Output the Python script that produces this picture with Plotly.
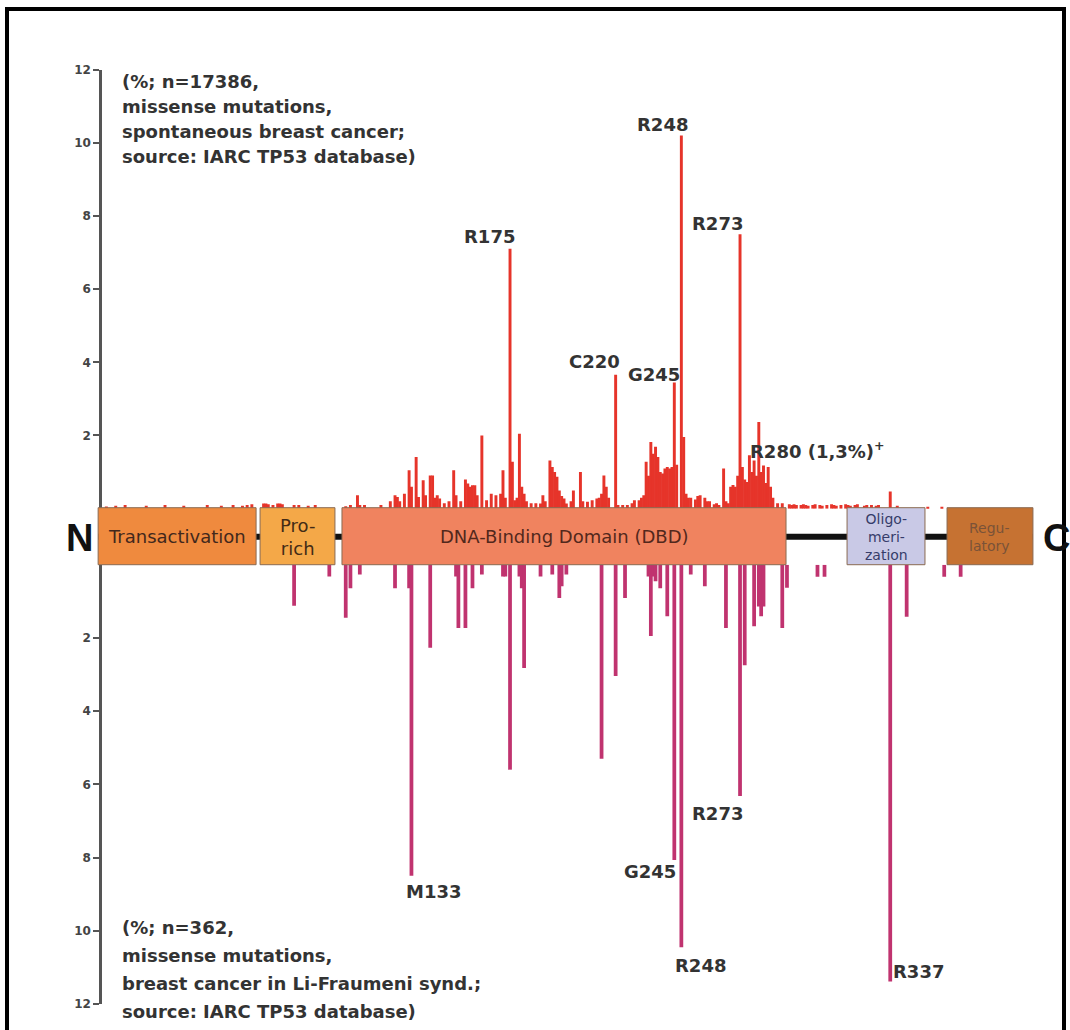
import plotly.graph_objects as go

# ---------------- data ----------------
# Upper panel: spontaneous breast cancer (IARC TP53 db), % of missense mutations per codon
top_codons = [3, 7, 11, 20, 28, 36, 46, 52, 57, 61, 63, 65, 70, 71, 72, 74, 76, 77, 78, 83, 85, 89, 92,
              105, 107, 110, 111, 113, 120, 124, 126, 127, 128, 130, 132, 133, 135, 136, 138, 139, 141, 142,
              143, 144, 145, 147, 149, 151, 152, 154, 156, 157, 158, 159, 160, 161, 163, 165, 167, 169, 171,
              172, 173, 175, 176, 177, 178, 179, 180, 181, 182, 184, 186, 188, 189, 190, 192, 193, 194, 195,
              196, 197, 198, 199, 201, 202, 205, 206, 208, 210, 212, 213, 214, 215, 216, 217, 220, 221, 223,
              225, 227, 228, 230, 231, 232, 233, 234, 235, 236, 237, 238, 239, 240, 241, 242, 243, 244, 245,
              246, 248, 249, 250, 251, 252, 254, 255, 256, 258, 259, 260, 262, 263, 264, 266, 267, 268, 269,
              270, 271, 272, 273, 274, 275, 276, 277, 278, 279, 280, 281, 282, 283, 284, 285, 286, 287, 289,
              291, 294, 295, 296, 297, 299, 300, 301, 302, 304, 305, 307, 308, 310, 312, 313, 314, 316, 318,
              319, 320, 322, 323, 326, 327, 329, 331, 332, 337, 340, 353, 359]
top_values = [0.06, 0.08, 0.1, 0.08, 0.1, 0.08, 0.1, 0.08, 0.1, 0.08, 0.1, 0.12, 0.14, 0.14, 0.12, 0.1, 0.14, 0.14, 0.12, 0.1, 0.1, 0.08, 0.1,
              0.07, 0.1, 0.37, 0.1, 0.1, 0.1, 0.2, 0.37, 0.32, 0.2, 0.41, 1.05, 0.6, 1.41, 0.32, 0.78, 0.37, 0.91, 0.91,
              0.3, 0.37, 0.28, 0.15, 0.2, 1.05, 0.37, 0.2, 0.8, 0.69, 0.6, 0.64, 0.64, 0.37, 2.0, 0.23, 0.41, 0.37, 0.41,
              1.05, 0.3, 7.1, 1.28, 0.23, 0.3, 2.05, 0.6, 0.41, 0.2, 0.15, 0.15, 0.14, 0.37, 0.2, 1.32, 1.14, 1.0, 0.87,
              0.5, 0.35, 0.28, 0.14, 0.2, 0.5, 1.0, 0.2, 0.19, 0.23, 0.28, 0.3, 0.41, 0.91, 0.6, 0.3, 3.66, 0.1, 0.1,
              0.1, 0.15, 0.23, 0.23, 0.3, 0.37, 1.28, 0.9, 1.82, 1.5, 1.69, 1.41, 1.0, 0.96, 1.1, 1.14, 1.1, 1.14, 3.45,
              1.2, 10.2, 1.96, 0.41, 0.3, 0.3, 0.25, 0.35, 0.37, 0.3, 0.2, 0.2, 0.12, 0.15, 0.1, 1.1, 0.2, 0.15, 0.6,
              0.65, 0.6, 0.9, 7.5, 1.14, 0.8, 0.73, 1.46, 1.0, 1.32, 0.9, 2.37, 1.0, 1.18, 0.7, 1.14, 0.6, 0.3, 0.15,
              0.15, 0.12, 0.1, 0.12, 0.1, 0.1, 0.12, 0.1, 0.08, 0.1, 0.12, 0.1, 0.08, 0.1, 0.12, 0.1, 0.08, 0.1, 0.12,
              0.1, 0.08, 0.1, 0.12, 0.08, 0.1, 0.1, 0.08, 0.1, 0.47, 0.08, 0.05, 0.05]

# Lower panel: breast cancer in Li-Fraumeni syndrome
bottom_codons = [83, 98, 105, 107, 111, 126, 132, 133, 141, 152, 153, 156, 159, 163, 172, 173, 175, 179, 180,
                 181, 188, 193, 196, 197, 199, 214, 220, 224, 234, 235, 236, 237, 239, 242, 245, 248, 252, 258,
                 267, 273, 275, 279, 281, 282, 283, 291, 293, 306, 309, 337, 344, 360, 367]
bottom_values = [1.12, 0.32, 1.45, 0.64, 0.27, 0.64, 0.64, 8.5, 2.27, 0.32, 1.73, 1.73, 0.64, 0.27, 0.32, 0.32, 5.6, 0.32, 0.64,
                 2.82, 0.32, 0.27, 0.91, 0.59, 0.27, 5.3, 3.04, 0.91, 0.32, 1.95, 0.32, 0.45, 0.64, 1.41, 8.07, 10.45, 0.27, 0.59,
                 1.73, 6.32, 2.75, 1.68, 1.14, 1.41, 1.14, 1.73, 0.63, 0.33, 0.33, 11.39, 1.42, 0.33, 0.33]

tick_values = [2, 4, 6, 8, 10, 12]
tick_labels = ["2", "4", "6", "8", "10", "12"]

# Protein domains (codon ranges)
domain_names = ["Transactivation", "Pro-<br>rich", "DNA-Binding Domain (DBD)", "Oligo-<br>meri-<br>zation", "Regu-<br>latory"]
domain_start = [-0.5, 68.5, 103.4, 318.6, 361.2]
domain_end = [66.8, 100.4, 292.6, 351.8, 397.8]
domain_fill = ["#ef8a3e", "#f4a848", "#f0835f", "#c9c9e6", "#c67232"]
domain_text_color = ["#42281c", "#432b16", "#52281c", "#363c6a", "#7a5238"]
domain_font_size = [18, 18, 18, 14, 14]

top_label_text = ["R175", "R248", "R273", "C220", "G245"]
top_label_x = [166.1, 239.8, 263.6, 210.8, 236.4]
top_label_y = [7.45, 10.5, 7.8, 4.01, 3.66]

bottom_label_text = ["M133", "G245", "R273", "R248", "R337"]
bottom_label_x = [142.6, 234.7, 263.6, 256.0, 349.0]
bottom_label_y = [8.94, 8.39, 6.81, 10.95, 11.12]

top_note_lines = ["(%; n=17386,", "missense mutations,", "spontaneous breast cancer;", "source: IARC TP53 database)"]
bottom_note_lines = ["(%; n=362,", "missense mutations,", "breast cancer in Li-Fraumeni synd.;", "source: IARC TP53 database)"]

# ---------------- layout helpers ----------------
W, H = 1070, 1030
PX_PER_CODON = 2.347
X0_PIX = 99.3
Y_CENTER, Y_SCALE = 537.0, 0.986   # compensation for the vertical scaling seen in the photographed page


def py(p):  # pixel row (reference) -> paper fraction
    q = Y_CENTER + (p - Y_CENTER) / Y_SCALE
    return 1 - q / H


def px(p):  # pixel column -> paper fraction
    return p / W


FONT = "DejaVu Sans"
TXT = "#333333"

fig = go.Figure()
fig.add_trace(go.Bar(x=top_codons, y=top_values, width=1.25, marker=dict(color="#e6342a", line=dict(width=0)),
                     xaxis="x", yaxis="y", showlegend=False, hoverinfo="x+y"))
fig.add_trace(go.Bar(x=bottom_codons, y=bottom_values, width=1.6, marker=dict(color="#c0336f", line=dict(width=0)),
                     xaxis="x", yaxis="y2", showlegend=False, hoverinfo="x+y"))

axis_common = dict(anchor="free", position=px(100), showline=True, linecolor="#555555", linewidth=2.5,
                   ticks="outside", ticklen=6, tickwidth=2, tickcolor="#555555",
                   tickvals=tick_values, ticktext=tick_labels, showgrid=False, zeroline=False,
                   tickfont=dict(family=FONT, size=12, color="#444444", weight="bold"))

fig.update_layout(
    width=W, height=H,
    margin=dict(l=0, r=0, t=0, b=0),
    paper_bgcolor="white", plot_bgcolor="white",
    barmode="overlay",
    xaxis=dict(range=[-X0_PIX / PX_PER_CODON, (W - X0_PIX) / PX_PER_CODON], domain=[0, 1], visible=False),
    yaxis=dict(range=[0, 12], domain=[py(509), py(70)], **axis_common),
    yaxis2=dict(range=[12, 0], domain=[py(1004), py(565)], **axis_common),
)

shapes = []
# frame
shapes.append(dict(type="rect", xref="paper", yref="paper", x0=px(7), x1=px(1064), y0=-0.05, y1=1 - 2.0 / H,
                   line=dict(color="black", width=4), fillcolor="rgba(0,0,0,0)", layer="above"))
# backbone line
shapes.append(dict(type="line", xref="x", yref="paper", x0=domain_start[0], x1=domain_end[-1],
                   y0=py(537), y1=py(537), line=dict(color="#111111", width=6), layer="above"))
annotations = []
for name, s, e, fc, tc, fs in zip(domain_names, domain_start, domain_end, domain_fill, domain_text_color, domain_font_size):
    shapes.append(dict(type="rect", xref="x", yref="paper", x0=s, x1=e, y0=py(565), y1=py(508),
                       fillcolor=fc, line=dict(color="#8a6a52", width=1), layer="above"))
    annotations.append(dict(x=(s + e) / 2, y=py(537), xref="x", yref="paper", text=name, showarrow=False,
                            font=dict(family=FONT, size=fs, color=tc), xanchor="center", yanchor="middle"))

# N / C
annotations.append(dict(x=px(79), y=py(538), xref="paper", yref="paper", text="N", showarrow=False,
                        xanchor="center", yanchor="middle",
                        font=dict(family="Liberation Sans", size=38, color="#111111", weight="bold")))
annotations.append(dict(x=px(1056), y=py(538), xref="paper", yref="paper", text="C", showarrow=False,
                        xanchor="center", yanchor="middle",
                        font=dict(family="Liberation Sans", size=38, color="#111111", weight="bold")))

lab_font = dict(family=FONT, size=18, color=TXT, weight="bold")
for t, x, y in zip(top_label_text, top_label_x, top_label_y):
    annotations.append(dict(x=x, y=y, xref="x", yref="y", text=t, showarrow=False, font=lab_font,
                            xanchor="center", yanchor="middle"))
for t, x, y in zip(bottom_label_text, bottom_label_x, bottom_label_y):
    annotations.append(dict(x=x, y=y, xref="x", yref="y2", text=t, showarrow=False, font=lab_font,
                            xanchor="center", yanchor="middle"))
annotations.append(dict(x=276.4, y=1.61, xref="x", yref="y", text="R280 (1,3%)<sup>+</sup>", showarrow=False,
                        xanchor="left", yanchor="middle", font=lab_font))

for i, line in enumerate(top_note_lines):
    annotations.append(dict(x=px(120), y=py(82 + 25 * i), xref="paper", yref="paper", text=line, showarrow=False,
                            xanchor="left", yanchor="middle", font=lab_font))
for i, line in enumerate(bottom_note_lines):
    annotations.append(dict(x=px(120), y=py(928 + 28 * i), xref="paper", yref="paper", text=line, showarrow=False,
                            xanchor="left", yanchor="middle", font=lab_font))

fig.update_layout(shapes=shapes, annotations=annotations)

fix_page = ("document.body.style.margin='0px';document.body.style.padding='0px';"
            "document.body.style.overflow='hidden';"
            "var d=document.getElementById('{plot_id}');d.style.position='absolute';"
            "d.style.left='0px';d.style.top='0px';")
fig.write_html("out.html", post_script=fix_page, config={"displayModeBar": False})
